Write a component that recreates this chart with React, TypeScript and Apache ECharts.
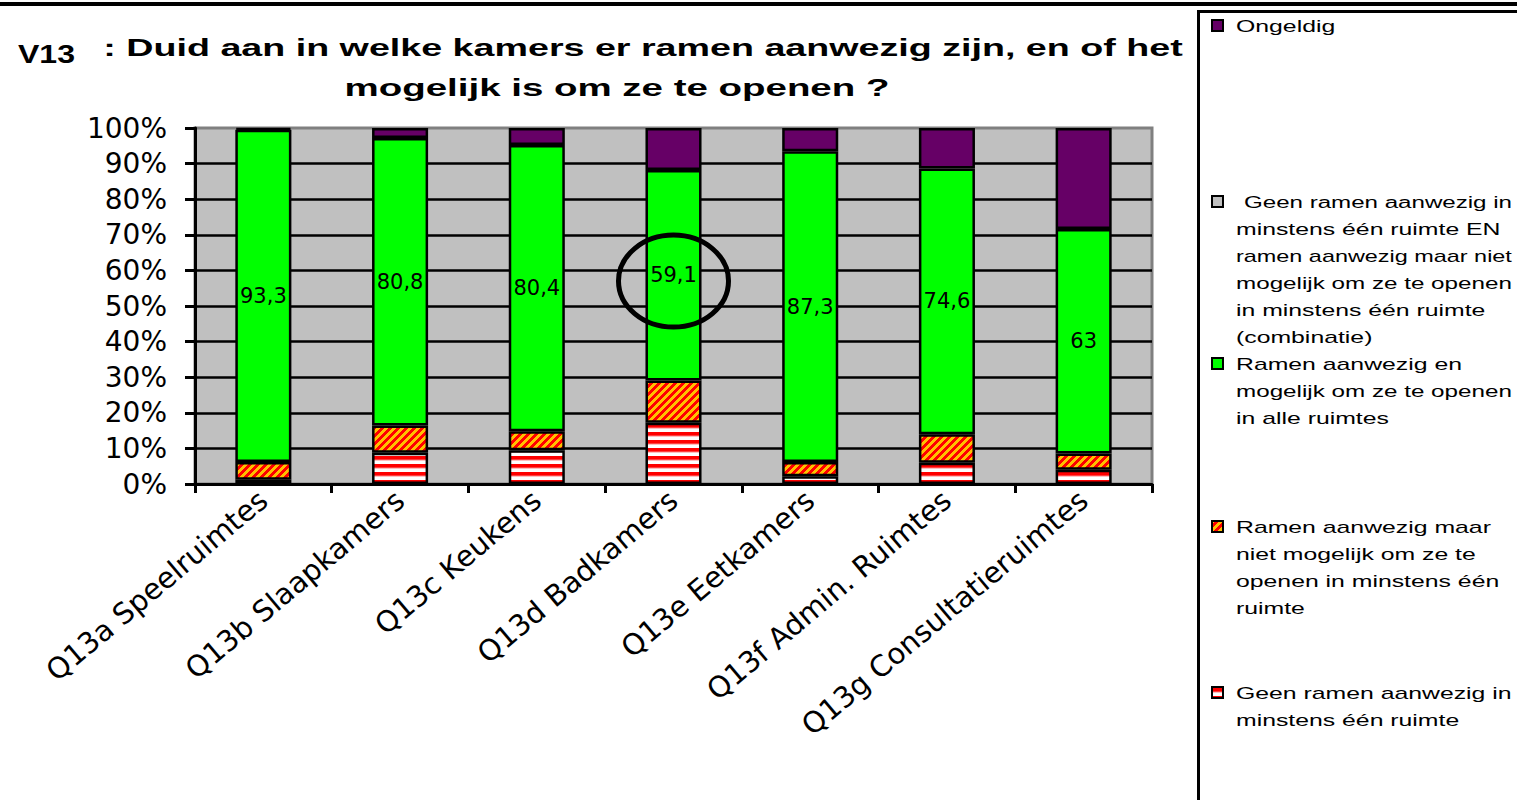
import React, { useEffect, useRef } from 'react';
import * as echarts from 'echarts';

// ---------- data ----------
const categories = [
  'Q13a Speelruimtes',
  'Q13b Slaapkamers',
  'Q13c Keukens',
  'Q13d Badkamers',
  'Q13e Eetkamers',
  'Q13f Admin. Ruimtes',
  'Q13g Consultatieruimtes',
];

const seriesNames = {
  geen: 'Geen ramen aanwezig in minstens één ruimte',
  niet: 'Ramen aanwezig maar niet mogelijk om ze te openen in minstens één ruimte',
  alle: 'Ramen aanwezig en mogelijk om ze te openen in alle ruimtes',
  comb: 'Geen ramen aanwezig in minstens één ruimte EN ramen aanwezig maar niet mogelijk om ze te openen in minstens één ruimte (combinatie)',
  ong: 'Ongeldig',
};

const geenRamen = [1.2, 8.8, 9.5, 17.2, 2.2, 6.0, 4.0];
const nietOpenen = [5.0, 7.6, 5.3, 11.9, 4.0, 8.0, 4.6];
const alleOpenen = [93.3, 80.8, 80.4, 59.1, 87.3, 74.6, 63];
const combinatie = [0, 0, 0, 0, 0, 0, 0];
const ongeldig = [0.5, 2.8, 4.8, 11.8, 6.5, 11.4, 28.4];

const yTicks = [0, 10, 20, 30, 40, 50, 60, 70, 80, 90, 100];

const titleCode = 'V13';
const titleLine1 = ': Duid aan in welke kamers er ramen aanwezig zijn, en of het';
const titleLine2 = 'mogelijk is om ze te openen ?';

const legendOngeldig = ['Ongeldig'];
const legendComb = [
  'Geen ramen aanwezig in',
  'minstens één ruimte EN',
  'ramen aanwezig maar niet',
  'mogelijk om ze te openen',
  'in minstens één ruimte',
  '(combinatie)',
];
const legendAlle = ['Ramen aanwezig en', 'mogelijk om ze te openen', 'in alle ruimtes'];
const legendNiet = ['Ramen aanwezig maar', 'niet mogelijk om ze te', 'openen in minstens één', 'ruimte'];
const legendGeen = ['Geen ramen aanwezig in', 'minstens één ruimte'];

const highlightIndex = 3;
const highlightValue = 57;

// ---------- helpers ----------
function stripePattern(): string {
  const c = document.createElement('canvas');
  c.width = 4;
  c.height = 4;
  const g = c.getContext('2d')!;
  g.fillStyle = '#FFFFFF';
  g.fillRect(0, 0, 4, 4);
  g.fillStyle = '#FF0000';
  g.fillRect(0, 0, 4, 2);
  return c.toDataURL();
}

function diagPattern(): string {
  const n = 8;
  const c = document.createElement('canvas');
  c.width = n;
  c.height = n;
  const g = c.getContext('2d')!;
  g.fillStyle = '#FFC000';
  g.fillRect(0, 0, n, n);
  g.fillStyle = '#FF0000';
  for (let x = 0; x < n; x++) {
    for (let y = 0; y < n; y++) {
      if ((x + y) % n < n / 2) g.fillRect(x, y, 1, 1);
    }
  }
  return c.toDataURL();
}

function measure(text: string, font: string): number {
  const c = document.createElement('canvas').getContext('2d')!;
  c.font = font;
  return c.measureText(text).width;
}

export default function App() {
  const ref = useRef<HTMLDivElement>(null);

  useEffect(() => {
    if (!ref.current) return;
    const chart = echarts.init(ref.current, null, { renderer: 'svg' });

    const stripes = { image: stripePattern(), repeat: 'repeat' as const };
    const diag = { image: diagPattern(), repeat: 'repeat' as const };

    const border = { borderColor: '#000000', borderWidth: 2.5 };

    const option: any = {
      animation: false,
      backgroundColor: '#FFFFFF',
      grid: {
        left: 195,
        top: 128,
        right: 365,
        bottom: 316,
        show: true,
        backgroundColor: '#C0C0C0',
        borderColor: '#808080',
        borderWidth: 3,
      },
      legend: { show: false },
      xAxis: {
        type: 'category',
        data: categories,
        axisLine: { show: true, lineStyle: { color: '#000', width: 3 } },
        axisTick: { show: true, length: 9, lineStyle: { color: '#000', width: 3 } },
        axisLabel: {
          interval: 0,
          rotate: 40,
          margin: 12,
          color: '#000',
          fontFamily: 'DejaVu Sans',
          fontSize: 29,
        },
        splitLine: { show: false },
      },
      yAxis: {
        type: 'value',
        min: yTicks[0],
        max: yTicks[yTicks.length - 1],
        interval: yTicks[1] - yTicks[0],
        axisLine: { show: true, lineStyle: { color: '#000', width: 3 } },
        axisTick: { show: true, length: 10, lineStyle: { color: '#000', width: 3 } },
        axisLabel: {
          formatter: '{value}%',
          margin: 28,
          color: '#000',
          fontFamily: 'DejaVu Sans',
          fontSize: 28,
        },
        splitLine: { show: true, showMaxLine: false, lineStyle: { color: '#000', width: 2.5 } },
      },
      series: [
        {
          name: seriesNames.geen,
          type: 'bar',
          stack: 'tot',
          barWidth: '41%',
          data: geenRamen,
          itemStyle: { color: stripes, ...border },
        },
        {
          name: seriesNames.niet,
          type: 'bar',
          stack: 'tot',
          data: nietOpenen,
          itemStyle: { color: diag, ...border },
        },
        {
          name: seriesNames.alle,
          type: 'bar',
          stack: 'tot',
          data: alleOpenen,
          itemStyle: { color: '#00FF00', ...border },
          label: {
            show: true,
            position: 'inside',
            color: '#000',
            fontFamily: 'DejaVu Sans',
            fontSize: 21,
            formatter: (p: any) => String(p.value).replace('.', ','),
          },
        },
        {
          name: seriesNames.comb,
          type: 'bar',
          stack: 'tot',
          data: combinatie,
          itemStyle: { color: '#C0C0C0', borderWidth: 0 },
        },
        {
          name: seriesNames.ong,
          type: 'bar',
          stack: 'tot',
          data: ongeldig,
          itemStyle: { color: '#660066', ...border },
        },
      ],
    };

    chart.setOption(option);

    const [ex, ey] = chart.convertToPixel({ xAxisIndex: 0, yAxisIndex: 0 }, [highlightIndex, highlightValue]);

    const titleFont1 = 'bold 24px "Liberation Sans"';
    const codeFont = 'bold 25px "Liberation Sans"';
    const s1 = 1080 / measure(titleLine1, titleFont1);
    const s2 = 545 / measure(titleLine2, titleFont1);
    const sc = 57 / measure(titleCode, codeFont);

    const legendScale = 1.55;
    const legendFont = '16px "Liberation Sans"';
    const lh = 27;
    const legendTextX = 1236;
    const rightLimit = 1512;

    const legendGroups: { lines: string[]; y: number; fill: any; x?: number }[] = [
      { lines: legendOngeldig, y: 26, fill: '#660066' },
      { lines: legendComb, y: 202, fill: '#C0C0C0', x: 1244 },
      { lines: legendAlle, y: 364, fill: '#00FF00' },
      { lines: legendNiet, y: 527, fill: diag },
      { lines: legendGeen, y: 693, fill: stripes },
    ];

    const graphics: any[] = [
      // frame lines
      { type: 'line', shape: { x1: 0, y1: 4, x2: 1517, y2: 4 }, style: { stroke: '#000', lineWidth: 4 } },
      { type: 'line', shape: { x1: 1198, y1: 11.5, x2: 1517, y2: 11.5 }, style: { stroke: '#000', lineWidth: 3 } },
      { type: 'line', shape: { x1: 1198.5, y1: 10, x2: 1198.5, y2: 800 }, style: { stroke: '#000', lineWidth: 3 } },
      // title
      {
        type: 'text',
        x: 18,
        y: 54,
        scaleX: sc,
        style: { text: titleCode, font: codeFont, fill: '#000', align: 'left', verticalAlign: 'middle' },
      },
      {
        type: 'text',
        x: 643,
        y: 48,
        scaleX: s1,
        style: { text: titleLine1, font: titleFont1, fill: '#000', align: 'center', verticalAlign: 'middle' },
      },
      {
        type: 'text',
        x: 617,
        y: 88,
        scaleX: s2,
        style: { text: titleLine2, font: titleFont1, fill: '#000', align: 'center', verticalAlign: 'middle' },
      },
      // highlight ellipse
      {
        type: 'ellipse',
        z: 100,
        shape: { cx: ex, cy: ey, rx: 55, ry: 46 },
        style: { fill: 'none', stroke: '#000', lineWidth: 5 },
      },
    ];

    legendGroups.forEach((g) => {
      graphics.push({
        type: 'rect',
        shape: { x: 1212, y: g.y - 6, width: 11, height: 11 },
        style: { fill: g.fill, stroke: '#000', lineWidth: 2 },
      });
      g.lines.forEach((line, i) => {
        const lx = i === 0 && g.x ? g.x : legendTextX;
        const w = measure(line, legendFont);
        const sx = Math.min(legendScale, (rightLimit - lx) / w);
        graphics.push({
          type: 'text',
          x: lx,
          y: g.y + i * lh,
          scaleX: sx,
          style: {
            text: line,
            font: legendFont,
            fill: '#000',
            align: 'left',
            verticalAlign: 'middle',
          },
        });
      });
    });

    chart.setOption({ graphic: graphics });

    return () => chart.dispose();
  }, []);

  return (
    <div
      ref={ref}
      style={{ position: 'fixed', left: 0, top: 0, width: 1517, height: 800, background: '#fff' }}
    />
  );
}
